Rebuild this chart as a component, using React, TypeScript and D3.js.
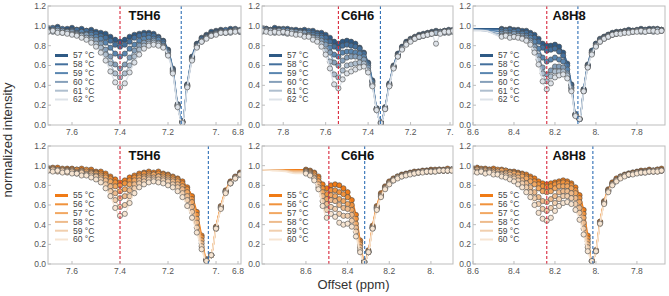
import React from "react";
import * as d3 from "d3";

const FONT = "'Liberation Sans', Arial, Helvetica, sans-serif";

// ---------- labels ----------
const blueLabels = ["57 °C", "58 °C", "59 °C", "60 °C", "61 °C", "62 °C"];
const orangeLabels = ["55 °C", "56 °C", "57 °C", "58 °C", "59 °C", "60 °C"];
const yTickValues = [0, 0.2, 0.4, 0.6, 0.8, 1.0, 1.2];

// ---------- T5H6 (top, blue) ----------
const t5TopX = [7.70,7.68,7.66,7.64,7.62,7.60,7.58,7.56,7.54,7.52,7.50,7.48,7.46,7.44,7.42,7.40,7.38,7.36,7.34,7.32,7.30,7.28,7.26,7.24,7.22,7.20,7.18,7.16,7.14,7.12,7.10,7.08,7.06,7.04,7.02,7.00,6.98,6.96,6.94,6.92,6.90];
const t5Top57 = [.98,.97,.99,.96,.97,.98,.96,.97,.95,.96,.94,.93,.92,.89,.86,.84,.86,.89,.91,.92,.93,.93,.92,.89,.85,.76,.57,.21,.03,.41,.69,.82,.88,.91,.94,.95,.96,.95,.97,.96,.95];
const t5Top58 = [.97,.98,.96,.97,.95,.96,.96,.94,.95,.93,.92,.90,.88,.85,.81,.79,.81,.84,.88,.90,.91,.91,.90,.88,.84,.75,.56,.20,.04,.40,.68,.81,.87,.90,.92,.94,.95,.96,.95,.97,.94];
const t5Top59 = [.96,.95,.97,.95,.94,.95,.93,.94,.92,.91,.89,.87,.83,.78,.72,.69,.72,.77,.81,.85,.87,.88,.87,.86,.82,.74,.55,.19,.03,.40,.67,.80,.85,.89,.91,.93,.94,.93,.95,.95,.96];
const t5Top60 = [.95,.96,.94,.95,.93,.94,.92,.91,.91,.88,.86,.82,.76,.69,.61,.57,.61,.68,.75,.80,.83,.84,.85,.83,.80,.73,.54,.20,.03,.39,.66,.79,.85,.88,.91,.92,.94,.93,.94,.96,.95];
const t5Top61 = [.95,.94,.95,.93,.94,.92,.91,.90,.88,.86,.82,.78,.71,.62,.52,.48,.52,.60,.69,.76,.80,.82,.83,.82,.79,.71,.53,.19,.03,.39,.66,.79,.84,.88,.90,.92,.93,.94,.93,.95,.94];
const t5Top62 = [.94,.95,.93,.93,.92,.91,.90,.88,.86,.83,.79,.73,.65,.54,.43,.38,.42,.53,.63,.71,.77,.80,.81,.80,.78,.70,.52,.18,.02,.38,.65,.78,.84,.87,.90,.91,.93,.93,.94,.94,.95];

// ---------- C6H6 (top, blue) ----------
const c6TopX = [7.90,7.88,7.86,7.84,7.82,7.80,7.78,7.76,7.74,7.72,7.70,7.68,7.66,7.64,7.62,7.60,7.58,7.56,7.54,7.52,7.50,7.48,7.46,7.44,7.42,7.40,7.38,7.36,7.34,7.32,7.30,7.28,7.26,7.24,7.22,7.20,7.18,7.16,7.14,7.12,7.10,7.08,7.06,7.04,7.02,7.00];
const c6Top57 = [.98,.97,.96,.98,.97,.96,.97,.95,.96,.95,.96,.94,.95,.93,.93,.91,.88,.84,.82,.84,.85,.84,.82,.78,.73,.63,.45,.17,.03,.18,.42,.60,.72,.79,.84,.87,.89,.91,.92,.93,.94,.95,.94,.95,.96,.95];
const c6Top58 = [.96,.97,.95,.96,.96,.97,.95,.96,.94,.95,.94,.95,.93,.92,.90,.88,.84,.79,.77,.80,.81,.80,.79,.77,.72,.62,.44,.16,.02,.17,.41,.59,.71,.78,.83,.86,.88,.90,.91,.92,.93,.93,.94,.94,.95,.96];
const c6Top59 = [.97,.95,.96,.95,.94,.96,.94,.95,.93,.94,.92,.93,.91,.90,.88,.84,.78,.71,.69,.73,.74,.74,.73,.72,.69,.60,.43,.16,.02,.17,.40,.59,.70,.78,.82,.86,.88,.89,.91,.92,.93,.94,.93,.95,.94,.95];
const c6Top60 = [.95,.96,.94,.95,.95,.93,.95,.93,.94,.92,.93,.91,.89,.88,.85,.81,.73,.63,.60,.65,.68,.69,.69,.68,.66,.58,.41,.16,.02,.17,.40,.58,.70,.77,.82,.85,.88,.89,.90,.92,.92,.93,.94,.93,.95,.94];
const c6Top61 = [.94,.95,.95,.93,.95,.94,.92,.94,.92,.93,.90,.90,.88,.86,.82,.75,.64,.51,.48,.55,.60,.61,.62,.63,.62,.55,.40,.15,.02,.16,.40,.58,.69,.77,.82,.85,.87,.89,.90,.91,.92,.93,.93,.94,.93,.94];
const c6Top62 = [.95,.94,.93,.94,.93,.94,.93,.92,.91,.91,.89,.89,.86,.84,.79,.71,.57,.41,.37,.46,.52,.54,.56,.58,.59,.53,.39,.15,.02,.16,.39,.57,.69,.76,.81,.84,.87,.89,.90,.91,.92,.82,.92,.94,.94,.95];

// ---------- A8H8 (top, blue) ----------
const a8TopLeadX = [8.60, 8.54];
const a8TopX = [8.46,8.44,8.42,8.40,8.38,8.36,8.34,8.32,8.30,8.28,8.26,8.24,8.22,8.20,8.18,8.16,8.14,8.12,8.10,8.08,8.06,8.04,8.02,8.00,7.98,7.96,7.94,7.92,7.90,7.88,7.86,7.84,7.82,7.80,7.78,7.76,7.74,7.72,7.70,7.68];
const a8TopLead = [[.97,.97],[.97,.96],[.96,.96],[.96,.95],[.96,.95],[.95,.95]];
const a8Top57 = [.97,.96,.97,.96,.96,.95,.95,.93,.91,.87,.82,.80,.80,.81,.79,.73,.62,.41,.11,.06,.36,.61,.75,.82,.87,.89,.91,.93,.94,.94,.95,.96,.95,.96,.97,.96,.97,.96,.97,.96];
const a8Top58 = [.96,.95,.96,.94,.95,.93,.93,.91,.88,.84,.78,.75,.76,.77,.74,.70,.60,.40,.11,.06,.36,.60,.74,.82,.86,.89,.91,.92,.93,.94,.94,.95,.95,.95,.96,.95,.96,.97,.95,.96];
const a8Top59 = [.94,.95,.93,.94,.92,.92,.90,.88,.84,.77,.68,.64,.66,.68,.66,.64,.56,.38,.10,.06,.35,.60,.73,.81,.86,.88,.90,.92,.93,.93,.94,.94,.95,.95,.95,.96,.95,.96,.96,.95];
const a8Top60 = [.92,.93,.91,.92,.90,.90,.88,.85,.79,.70,.58,.51,.55,.59,.59,.58,.52,.37,.10,.06,.34,.59,.73,.80,.85,.88,.90,.91,.92,.93,.94,.94,.94,.95,.95,.94,.95,.96,.95,.96];
const a8Top61 = [.90,.91,.90,.89,.90,.88,.86,.83,.76,.66,.52,.44,.49,.54,.54,.54,.50,.35,.10,.06,.34,.58,.72,.80,.84,.87,.89,.91,.92,.93,.93,.94,.94,.95,.94,.95,.95,.94,.96,.95];
const a8Top62 = [.89,.90,.88,.89,.88,.87,.85,.81,.73,.61,.44,.36,.42,.48,.50,.51,.47,.34,.09,.06,.34,.58,.71,.79,.84,.87,.89,.91,.92,.92,.93,.93,.94,.94,.95,.94,.95,.95,.94,.95];

// ---------- T5H6 (bottom, orange) ----------
const t5BotX = [7.70,7.68,7.66,7.64,7.62,7.60,7.58,7.56,7.54,7.52,7.50,7.48,7.46,7.44,7.42,7.40,7.38,7.36,7.34,7.32,7.30,7.28,7.26,7.24,7.22,7.20,7.18,7.16,7.14,7.12,7.10,7.08,7.06,7.04,7.02,7.00,6.98,6.96,6.94,6.92,6.90];
const t5Bot55 = [.98,.97,.98,.96,.97,.97,.96,.97,.95,.96,.94,.94,.92,.89,.86,.83,.85,.88,.90,.92,.93,.94,.93,.94,.92,.91,.89,.87,.84,.78,.69,.53,.29,.05,.09,.38,.59,.75,.84,.89,.93];
const t5Bot56 = [.97,.98,.96,.97,.96,.95,.96,.95,.96,.94,.93,.92,.90,.87,.83,.80,.82,.85,.88,.90,.92,.92,.91,.92,.91,.90,.88,.86,.82,.76,.66,.50,.27,.04,.09,.37,.58,.74,.83,.88,.92];
const t5Bot57 = [.96,.97,.95,.96,.95,.96,.94,.95,.94,.93,.92,.90,.88,.84,.79,.74,.76,.81,.85,.88,.89,.90,.91,.89,.89,.88,.86,.84,.79,.73,.63,.46,.24,.04,.09,.37,.58,.74,.83,.88,.92];
const t5Bot58 = [.96,.95,.96,.94,.95,.95,.93,.94,.92,.92,.90,.88,.85,.79,.72,.67,.69,.75,.81,.85,.87,.88,.88,.89,.87,.86,.84,.81,.76,.69,.58,.42,.21,.04,.09,.36,.57,.73,.82,.88,.91];
const t5Bot59 = [.95,.96,.94,.95,.93,.94,.92,.93,.91,.90,.89,.86,.81,.74,.65,.58,.60,.69,.77,.82,.84,.86,.86,.86,.85,.84,.81,.78,.72,.65,.53,.37,.18,.03,.09,.36,.57,.73,.82,.87,.91];
const t5Bot60 = [.95,.94,.95,.93,.94,.92,.92,.90,.90,.88,.86,.83,.77,.69,.57,.49,.51,.62,.72,.78,.81,.83,.84,.83,.82,.80,.78,.74,.68,.59,.47,.32,.15,.03,.09,.36,.56,.72,.82,.87,.91];

// ---------- C6H6 (bottom, orange) ----------
const c6BotLeadX = [8.81, 8.75, 8.70, 8.65];
const c6BotX = [8.60,8.58,8.56,8.54,8.52,8.50,8.48,8.46,8.44,8.42,8.40,8.38,8.36,8.34,8.32,8.30,8.28,8.26,8.24,8.22,8.20,8.18,8.16,8.14,8.12,8.10,8.08,8.06,8.04,8.02,8.00,7.98,7.96,7.94,7.92,7.90];
const c6BotLead = [[.96,.96,.96,.96],[.96,.96,.96,.95],[.96,.96,.95,.95],[.96,.96,.95,.94],[.96,.95,.95,.93],[.96,.95,.94,.92]];
const c6Bot55 = [.96,.95,.93,.89,.81,.77,.80,.81,.80,.77,.73,.65,.50,.24,.03,.14,.39,.59,.72,.79,.84,.87,.89,.91,.92,.93,.94,.94,.95,.95,.96,.95,.96,.95,.97,.96];
const c6Bot56 = [.95,.94,.92,.87,.77,.71,.75,.75,.73,.71,.68,.60,.46,.22,.02,.13,.38,.58,.71,.78,.83,.86,.89,.90,.91,.92,.93,.94,.94,.95,.95,.96,.95,.96,.95,.96];
const c6Bot57 = [.94,.93,.90,.84,.73,.66,.70,.69,.66,.64,.61,.55,.41,.20,.02,.12,.37,.57,.70,.78,.83,.86,.88,.90,.91,.92,.93,.93,.94,.94,.95,.95,.96,.95,.95,.96];
const c6Bot58 = [.94,.92,.88,.81,.69,.61,.65,.64,.60,.57,.56,.50,.37,.17,.02,.12,.37,.57,.69,.77,.82,.86,.88,.90,.91,.92,.93,.93,.94,.94,.94,.95,.95,.95,.96,.95];
const c6Bot59 = [.93,.91,.87,.78,.64,.55,.58,.56,.51,.49,.49,.44,.33,.14,.02,.12,.36,.56,.69,.77,.82,.85,.88,.89,.91,.92,.92,.93,.94,.94,.94,.94,.95,.95,.95,.96];
const c6Bot60 = [.92,.90,.85,.76,.59,.47,.51,.48,.42,.40,.41,.38,.28,.12,.02,.12,.36,.55,.68,.76,.81,.85,.87,.89,.90,.91,.92,.93,.93,.94,.94,.94,.95,.95,.95,.95];

// ---------- A8H8 (bottom, orange) ----------
const a8BotX = [8.60,8.58,8.56,8.54,8.52,8.50,8.48,8.46,8.44,8.42,8.40,8.38,8.36,8.34,8.32,8.30,8.28,8.26,8.24,8.22,8.20,8.18,8.16,8.14,8.12,8.10,8.08,8.06,8.04,8.02,8.00,7.98,7.96,7.94,7.92,7.90,7.88,7.86,7.84,7.82,7.80,7.78,7.76,7.74,7.72,7.70,7.68];
const a8Bot55 = [.97,.98,.96,.97,.96,.97,.95,.96,.95,.94,.94,.93,.92,.91,.89,.87,.84,.82,.81,.82,.83,.84,.85,.84,.82,.78,.70,.55,.29,.03,.14,.43,.64,.76,.83,.87,.89,.91,.92,.93,.94,.95,.94,.96,.95,.96,.97];
const a8Bot56 = [.96,.97,.97,.95,.96,.95,.96,.94,.95,.93,.93,.92,.91,.89,.87,.84,.81,.79,.78,.79,.81,.82,.83,.82,.80,.75,.67,.51,.26,.03,.14,.43,.63,.75,.82,.86,.89,.90,.92,.93,.93,.94,.95,.95,.94,.96,.95];
const a8Bot57 = [.96,.95,.96,.96,.94,.95,.94,.95,.93,.93,.92,.91,.89,.87,.84,.81,.77,.74,.73,.74,.77,.79,.79,.79,.77,.72,.63,.47,.23,.03,.13,.42,.63,.75,.81,.85,.88,.90,.91,.92,.93,.94,.94,.95,.95,.94,.96];
const a8Bot58 = [.95,.96,.94,.95,.95,.93,.94,.92,.92,.91,.89,.88,.85,.82,.78,.73,.68,.64,.63,.66,.69,.73,.74,.74,.72,.67,.57,.42,.20,.03,.13,.42,.62,.74,.81,.85,.88,.90,.91,.92,.93,.93,.94,.94,.95,.95,.95];
const a8Bot59 = [.95,.94,.95,.93,.94,.93,.92,.91,.90,.88,.87,.85,.82,.78,.73,.67,.61,.56,.54,.57,.62,.66,.69,.69,.67,.61,.52,.36,.17,.03,.13,.41,.62,.74,.81,.85,.88,.90,.91,.92,.93,.93,.93,.94,.94,.95,.95];
const a8Bot60 = [.94,.93,.94,.92,.93,.91,.91,.89,.88,.86,.84,.81,.78,.73,.68,.60,.52,.46,.44,.47,.54,.59,.62,.63,.61,.55,.45,.30,.13,.03,.13,.41,.61,.73,.80,.84,.87,.89,.91,.91,.92,.93,.93,.94,.94,.94,.95];

// ---------- axis ticks ----------
const t5Ticks = [7.6, 7.4, 7.2, 7.0, 6.8];
const c6TopTicks = [7.8, 7.6, 7.4, 7.2, 7.0];
const a8Ticks = [8.6, 8.4, 8.2, 8.0, 7.8];
const c6BotTicks = [8.6, 8.4, 8.2, 8.0];

// ---------- styles ----------
const blueColors = ["#2f5a85", "#44709d", "#5a86b0", "#86a0ba", "#afbfcf", "#dde2e8"];
const orangeColors = ["#f07b16", "#f0923c", "#f2a862", "#eebb8c", "#f1cfae", "#f7e5d2"];

type PanelSpec = {
  title: string;
  xs: number[];
  series: number[][];
  leadX?: number[];
  lead?: number[][];
  domain: [number, number];
  ticks: number[];
  red: number;
  blue: number;
  colors: string[];
  labels: string[];
  left: number;
  right: number;
  top: number;
  bottom: number;
};

const COLS = [[48, 241], [262, 453], [473, 665]];
const ROWS = [[6, 125], [146, 264]];

const panels: PanelSpec[] = [
  { title: "T5H6", xs: t5TopX, series: [t5Top57, t5Top58, t5Top59, t5Top60, t5Top61, t5Top62], domain: [7.7, 6.896], ticks: t5Ticks, red: 7.40, blue: 7.145, colors: blueColors, labels: blueLabels, left: COLS[0][0], right: COLS[0][1], top: ROWS[0][0], bottom: ROWS[0][1] },
  { title: "C6H6", xs: c6TopX, series: [c6Top57, c6Top58, c6Top59, c6Top60, c6Top61, c6Top62], domain: [7.9, 7.0], ticks: c6TopTicks, red: 7.54, blue: 7.342, colors: blueColors, labels: blueLabels, left: COLS[1][0], right: COLS[1][1], top: ROWS[0][0], bottom: ROWS[0][1] },
  { title: "A8H8", xs: a8TopX, leadX: a8TopLeadX, lead: a8TopLead, series: [a8Top57, a8Top58, a8Top59, a8Top60, a8Top61, a8Top62], domain: [8.6, 7.663], ticks: a8Ticks, red: 8.24, blue: 8.088, colors: blueColors, labels: blueLabels, left: COLS[2][0], right: COLS[2][1], top: ROWS[0][0], bottom: ROWS[0][1] },
  { title: "T5H6", xs: t5BotX, series: [t5Bot55, t5Bot56, t5Bot57, t5Bot58, t5Bot59, t5Bot60], domain: [7.7, 6.896], ticks: t5Ticks, red: 7.40, blue: 7.032, colors: orangeColors, labels: orangeLabels, left: COLS[0][0], right: COLS[0][1], top: ROWS[1][0], bottom: ROWS[1][1] },
  { title: "C6H6", xs: c6BotX, leadX: c6BotLeadX, lead: c6BotLead, series: [c6Bot55, c6Bot56, c6Bot57, c6Bot58, c6Bot59, c6Bot60], domain: [8.811, 7.894], ticks: c6BotTicks, red: 8.49, blue: 8.318, colors: orangeColors, labels: orangeLabels, left: COLS[1][0], right: COLS[1][1], top: ROWS[1][0], bottom: ROWS[1][1] },
  { title: "A8H8", xs: a8BotX, series: [a8Bot55, a8Bot56, a8Bot57, a8Bot58, a8Bot59, a8Bot60], domain: [8.6, 7.663], ticks: a8Ticks, red: 8.24, blue: 8.015, colors: orangeColors, labels: orangeLabels, left: COLS[2][0], right: COLS[2][1], top: ROWS[1][0], bottom: ROWS[1][1] },
];

function fmtX(v: number): string {
  return Math.abs(v - Math.round(v)) < 1e-9 ? `${Math.round(v)}.` : v.toFixed(1);
}

function Panel({ p, idx }: { p: PanelSpec; idx: number }) {
  const x = d3.scaleLinear().domain(p.domain).range([p.left, p.right]);
  const y = d3.scaleLinear().domain([0, 1.2]).range([p.bottom, p.top]);
  const line = d3
    .line<number[]>()
    .x((d) => x(d[0]))
    .y((d) => y(d[1]))
    .curve(d3.curveMonotoneX);
  const clipId = `clip-${idx}`;
  const order = [0, 1, 2, 3, 4, 5];
  const frame = "#bdbdbd";
  const tickColor = "#555";
  return (
    <g>
      <defs>
        <clipPath id={clipId}>
          <rect x={p.left} y={p.top} width={p.right - p.left} height={p.bottom - p.top} />
        </clipPath>
      </defs>
      <g clipPath={`url(#${clipId})`}>
        {order.map((k) => {
          const lx = (p.leadX || []).concat(p.xs);
          const ly = (p.lead ? p.lead[k] : []).concat(p.series[k]);
          const pts = lx.map((v, i) => [v, ly[i]]);
          return (
            <g key={k}>
              <path d={line(pts) || ""} fill="none" stroke={p.colors[k]} strokeWidth={1.4} />
              {p.xs.map((v, i) => (
                <circle key={i} cx={x(v)} cy={y(p.series[k][i])} r={2.6} fill={p.colors[k]} stroke="#4a4a4a" strokeWidth={0.6} />
              ))}
            </g>
          );
        })}
      </g>
      <line x1={x(p.red)} x2={x(p.red)} y1={p.top} y2={p.bottom} stroke="#d8283c" strokeWidth={1.1} strokeDasharray="3,2" />
      <line x1={x(p.blue)} x2={x(p.blue)} y1={p.top} y2={p.bottom} stroke="#2f6fb5" strokeWidth={1.1} strokeDasharray="3,2" />
      <rect x={p.left} y={p.top} width={p.right - p.left} height={p.bottom - p.top} fill="none" stroke={frame} strokeWidth={1} />
      {yTickValues.map((v) => (
        <g key={`y${v}`}>
          <line x1={p.left} x2={p.left + 3} y1={y(v)} y2={y(v)} stroke={frame} />
          <text x={p.left - 2} y={y(v)} dy="0.35em" textAnchor="end" fontSize={8.5} fill={tickColor} fontFamily={FONT}>
            {v.toFixed(1)}
          </text>
        </g>
      ))}
      {p.ticks.map((v) => {
        const px = Math.min(x(v), p.right - 3);
        return (
          <g key={`x${v}`}>
            <line x1={px} x2={px} y1={p.bottom} y2={p.bottom - 3} stroke={frame} />
            <text x={px} y={p.bottom + 9.5} textAnchor="middle" fontSize={8.5} fill={tickColor} fontFamily={FONT}>
              {fmtX(v)}
            </text>
          </g>
        );
      })}
      <text x={(p.left + p.right) / 2} y={p.top + 14} textAnchor="middle" fontSize={13} fontWeight="bold" fill="#111" fontFamily={FONT}>
        {p.title}
      </text>
      {p.labels.map((lab, i) => {
        const cy = p.top + 49.5 + i * 8.8;
        return (
          <g key={lab}>
            <line x1={p.left + 7} x2={p.left + 20} y1={cy} y2={cy} stroke={p.colors[i]} strokeWidth={i === 0 ? 3 : 2} />
            <text x={p.left + 25} y={cy} dy="0.35em" fontSize={8.5} fill="#444" fontFamily={FONT}>
              {lab}
            </text>
          </g>
        );
      })}
    </g>
  );
}

export default function App() {
  return (
    <div style={{ position: "fixed", left: 0, top: 0 }}>
      <svg width={669} height={296} style={{ display: "block", background: "#fff" }}>
        {panels.map((p, i) => (
          <Panel key={i} p={p} idx={i} />
        ))}
        <text transform="translate(11.5,140) rotate(-90)" textAnchor="middle" fontSize={13} fill="#333" fontFamily={FONT}>
          normalized intensity
        </text>
        <text x={353.5} y={289} textAnchor="middle" fontSize={13} fill="#333" fontFamily={FONT}>
          Offset (ppm)
        </text>
      </svg>
    </div>
  );
}
